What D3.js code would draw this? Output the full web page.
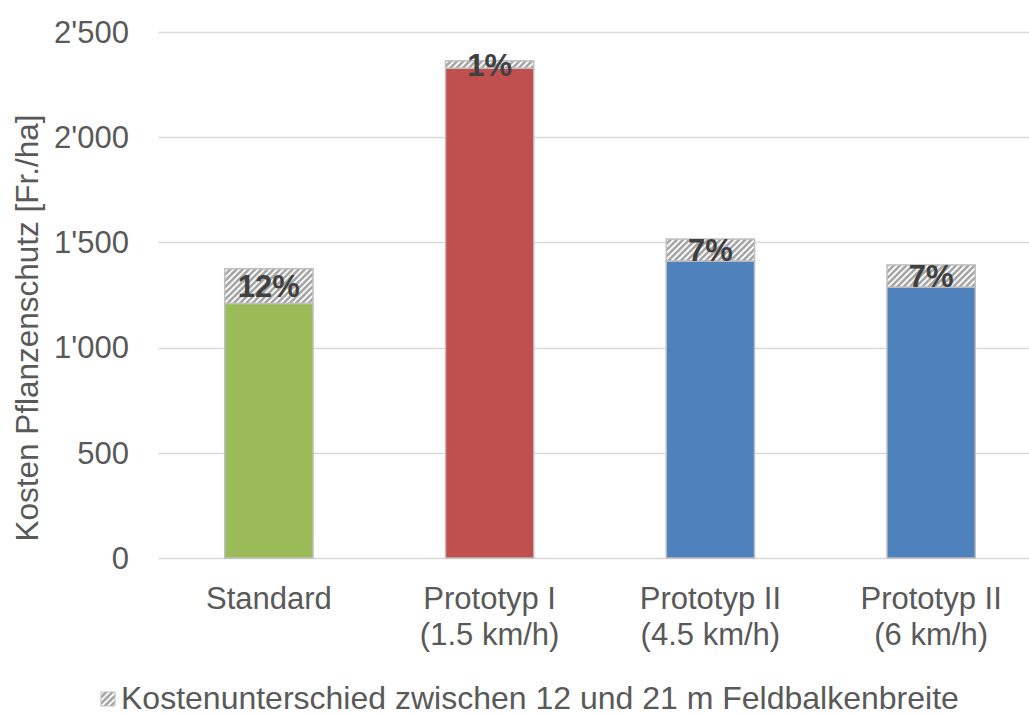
<!DOCTYPE html>
<html><head><meta charset="utf-8">
<script src="https://cdn.jsdelivr.net/npm/d3@7"></script>
<style>body{margin:0;background:#fff}svg{display:block}text{font-family:"Liberation Sans",Arial,sans-serif}</style>
</head><body><svg id="c" width="1029" height="715"></svg>
<script>
const categories = [["Standard"],["Prototyp I","(1.5 km/h)"],["Prototyp II","(4.5 km/h)"],["Prototyp II","(6 km/h)"]];
const baseValues = [1210, 2328, 1412, 1288];
const diffValues = [165, 35, 104, 105];
const diffLabels = ["12%","1%","7%","7%"];
const barColors = ["#9bbb59","#c0504d","#4f81bd","#4f81bd"];
const yTicks = [0,500,1000,1500,2000,2500];
const yTitle = "Kosten Pflanzenschutz [Fr./ha]";
const legendLabel = "Kostenunterschied zwischen 12 und 21 m Feldbalkenbreite";

(function(){
const svg = d3.select("#c");
const pL = 158.5, pR = 1041.5, pT = 32, pB = 558, gridR = 1029;
const x = d3.scaleBand().domain(d3.range(categories.length)).range([pL,pR]).paddingInner(0.6).paddingOuter(0.3);
const y = d3.scaleLinear().domain([0,2500]).range([pB, pT]);
const fmt = d3.formatLocale({decimal:".",thousands:"'",grouping:[3],currency:["",""]}).format(",");

const defs = svg.append("defs");
const p = defs.append("pattern").attr("id","h").attr("patternUnits","userSpaceOnUse").attr("width",4.4).attr("height",8).attr("patternTransform","rotate(45)");
p.append("rect").attr("width",4.4).attr("height",8).attr("fill","#fff");
p.append("rect").attr("x",0).attr("width",2.6).attr("height",8).attr("fill","#a6a6a6");

svg.append("g").selectAll("line").data(yTicks).join("line")
  .attr("x1",pL).attr("x2",gridR).attr("y1",d=>Math.round(y(d))+0.5).attr("y2",d=>Math.round(y(d))+0.5)
  .attr("stroke","#d9d9d9").attr("stroke-width",1.5);

svg.append("g").selectAll("text").data(yTicks).join("text")
  .attr("x",129).attr("y",d=>y(d)).attr("dy","0.35em").attr("text-anchor","end")
  .attr("font-size",31).attr("fill","#595959").text(d=>fmt(d));

svg.append("text").attr("transform",`translate(38,328) rotate(-90)`)
  .attr("text-anchor","middle").attr("font-size",31.5).attr("fill","#595959").text(yTitle);

const g = svg.append("g");
categories.forEach((c,i)=>{
  const x0 = x(i), w = x.bandwidth();
  g.append("rect").attr("x",x0).attr("y",y(baseValues[i])).attr("width",w).attr("height",y(0)-y(baseValues[i]))
    .attr("fill",barColors[i]).attr("stroke","#bfbfbf").attr("stroke-width",1.5);
  g.append("rect").attr("x",x0).attr("y",y(baseValues[i]+diffValues[i])).attr("width",w).attr("height",y(baseValues[i])-y(baseValues[i]+diffValues[i]))
    .attr("fill","url(#h)").attr("stroke","#bfbfbf").attr("stroke-width",1.5);
  g.append("text").attr("x",x0+w/2).attr("y",y(baseValues[i]+diffValues[i]/2)).attr("dy","0.36em")
    .attr("text-anchor","middle").attr("font-size",31).attr("font-weight","bold").attr("fill","#404040").text(diffLabels[i]);
  const t = svg.append("text").attr("text-anchor","middle").attr("font-size",31).attr("fill","#595959");
  c.forEach((line,k)=>t.append("tspan").attr("x",x0+w/2).attr("y",609+k*36).text(line));
});

const lg = svg.append("g");
lg.append("rect").attr("x",101).attr("y",692).attr("width",14).attr("height",14).attr("fill","url(#h)").attr("stroke","#bfbfbf");
lg.append("text").attr("x",121).attr("y",709).attr("font-size",32).attr("fill","#595959").text(legendLabel);
})();
</script></body></html>
